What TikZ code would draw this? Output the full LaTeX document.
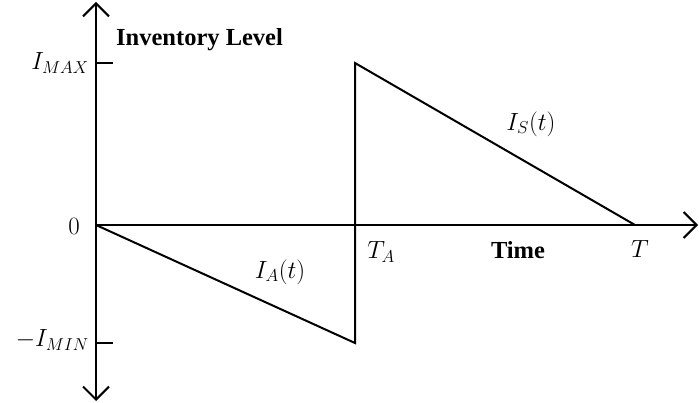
\documentclass[tikz,border=0pt]{standalone}
\usepackage{fontspec}
\setmainfont{Liberation Serif}
\usepackage{amsmath}
\usetikzlibrary{arrows.meta,positioning}

\begin{document}
\begin{tikzpicture}[
  x=1pt, y=-1pt,
  axis/.style={line width=2pt, -{Straight Barb[length=13pt,width=26pt,line width=2pt]}},
  curve/.style={line width=2pt, line cap=round},
  tick/.style={line width=2pt},
  word/.style={font=\fontsize{24.5}{28}\selectfont\bfseries, inner sep=0pt},
  lab/.style={font=\fontsize{26.5}{30}\selectfont, inner sep=0pt}
]
\useasboundingbox (0,0) rectangle (699,403);

% axes
\coordinate (O) at (96,225);
\coordinate (ytop) at (96,2);
\coordinate (ybot) at (96,401);
\coordinate (xend) at (698,225);
\draw[axis] (O) -- (ytop);
\draw[axis] (O) -- (ybot);
\draw[axis] (O) -- (xend);

% levels and times
\coordinate (max) at (96,63);
\coordinate (min) at (96,343);
\coordinate (TA) at (355,225);
\coordinate (T) at (635,225);
\coordinate (TAtop) at (355,63);
\coordinate (TAbot) at (355,343);
\draw[tick] (max) -- ++(17,0);
\draw[tick] (min) -- ++(17,0);

% inventory curve
\draw[curve] (O) -- (TAbot) -- (TAtop) -- (T);

% labels
\node[word, anchor=west] (title) at (116,40) {Inventory Level};
\node[word] (time) at (518,250) {Time};
\node[lab, anchor=east] (lmax) at (89,63) {$I_{MAX}$};
\node[lab, anchor=east] (lmin) at (89,340) {$-I_{MIN}$};
\node[lab] (zero) at (74,226) {$0$};
\node[lab] (lta) at (381,252) {$T_A$};
\node[lab] (lt) at (640,249) {$T$};
\node[lab] (ia) at (280,272) {$I_A(t)$};
\node[lab] (is) at (531,124) {$I_S(t)$};
\end{tikzpicture}
\end{document}
